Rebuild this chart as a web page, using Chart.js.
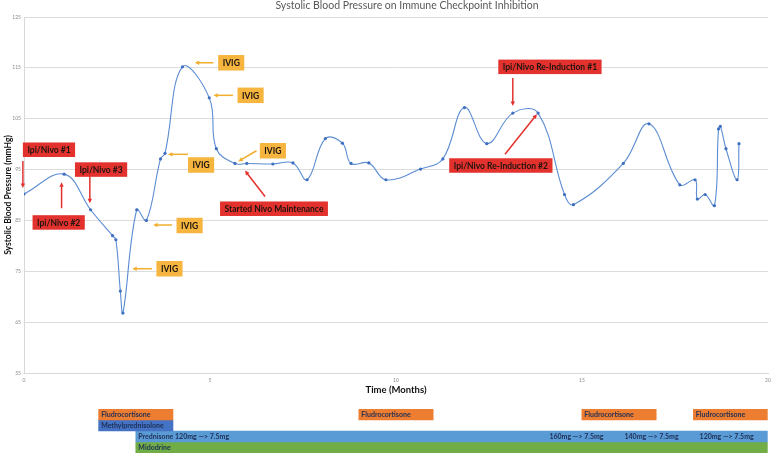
<!DOCTYPE html>
<html>
<head>
<meta charset="utf-8">
<script src="https://cdn.jsdelivr.net/npm/chart.js@4"></script>
<style>
  html, body { margin: 0; padding: 0; background: #fff; }
  #wrap { position: relative; width: 778px; height: 453px; overflow: hidden; }
  #bpChart { position: absolute; left: 0; top: 0; }
  #medChart { position: absolute; left: 0; top: 409px; }
</style>
</head>
<body>
<div id="wrap">
  <canvas id="bpChart" width="778" height="400"></canvas>
  <canvas id="medChart" width="778" height="44"></canvas>
</div>
<script>
// blood pressure readings
const months = [0, 1.08, 1.79, 2.38, 2.47, 2.59, 2.66, 3.03, 3.29, 3.67,
  3.79, 4.26, 4.98, 5.17, 5.67, 5.99, 6.69, 7.23, 7.61, 8.10,
  8.56, 8.79, 9.27, 9.73, 10.66, 11.26, 11.84, 12.44, 13.14, 13.82,
  14.53, 14.77, 16.11, 16.80, 17.63, 18.04, 18.10, 18.31, 18.56, 18.67,
  18.72, 18.87, 19.17, 19.22];
const systolic = [90.2, 94.1, 87.1, 82.0, 81.2, 71.1, 66.8, 87.1, 85.0, 97.1,
  98.2, 115.2, 109.1, 99.1, 96.2, 96.2, 96.1, 96.3, 93.0, 101.1,
  100.2, 96.2, 96.3, 93.0, 95.1, 97.1, 107.2, 100.1, 106.1, 106.1,
  90.1, 88.1, 96.2, 104.0, 92.0, 93.0, 89.2, 90.1, 87.9, 103.0,
  103.5, 99.1, 93.0, 100.1];
const yTicks = [55, 65, 75, 85, 95, 105, 115, 125];
const xTicks = [0, 5, 10, 15, 20];

// medication timeline (months)
const medRows = ['Fludrocortisone', 'Methylprednisolone', 'Prednisone', 'Midodrine'];
const fludroSpans = [[2, 4], [9, 11], [15, 17], [18, 20]];
const methylSpans = [[2, 4]];
const prednisoneSpans = [[3, 20]];
const midodrineSpans = [[3, 20]];
const medLabels = ['Fludrocortisone', 'Fludrocortisone', 'Fludrocortisone', 'Fludrocortisone',
  'Methylprednisolone', 'Prednisone 120mg \u2014> 7.5mg', '160mg \u2014> 7.5mg',
  '140mg \u2014> 7.5mg', '120mg \u2014> 7.5mg', 'Midodrine'];
const medLabelRows = [0, 0, 0, 0, 1, 2, 2, 2, 2, 3];
const medLabelStarts = [2, 9, 15, 18, 2, 3, 14.06, 16.08, 18.1, 3];

// callouts: box = [left month, centre mmHg], arrow = [x1, y1, x2, y2] tail -> head
const notes = [
  { text: 'Ipi/Nivo #1', kind: 'red', box: [-0.03, 98.9], arrow: [-0.03, 96.7, -0.03, 91.4] },
  { text: 'Ipi/Nivo #2', kind: 'red', box: [0.23, 84.6], arrow: [1.01, 87.4, 1.01, 92.5] },
  { text: 'Ipi/Nivo #3', kind: 'red', box: [1.37, 95.0], arrow: [1.77, 93.9, 1.77, 88.4] },
  { text: 'Started Nivo Maintenance', kind: 'red', box: [5.27, 87.3], arrow: [6.48, 89.7, 5.94, 94.8] },
  { text: 'Ipi/Nivo Re-Induction #1', kind: 'red', box: [12.75, 115.2], arrow: [13.14, 113.0, 13.14, 107.5] },
  { text: 'Ipi/Nivo Re-Induction #2', kind: 'red', box: [11.43, 95.8], arrow: [12.93, 98.0, 13.79, 105.9] },
  { text: 'IVIG', kind: 'ivig', box: [5.22, 116.0], arrow: [5.09, 116.0, 4.59, 116.0] },
  { text: 'IVIG', kind: 'ivig', box: [5.74, 109.6], arrow: [5.62, 109.6, 5.09, 109.6] },
  { text: 'IVIG', kind: 'ivig', box: [4.41, 95.9], arrow: [4.41, 98.0, 3.87, 98.0] },
  { text: 'IVIG', kind: 'ivig', box: [6.34, 98.7], arrow: [6.25, 98.7, 5.76, 96.6] },
  { text: 'IVIG', kind: 'ivig', box: [4.10, 84.0], arrow: [3.98, 84.1, 3.47, 84.1] },
  { text: 'IVIG', kind: 'ivig', box: [3.56, 75.5], arrow: [3.44, 75.5, 2.91, 75.5] }
];

function drawArrow(ctx, x1, y1, x2, y2, color) {
  const ang = Math.atan2(y2 - y1, x2 - x1);
  const head = 5;
  ctx.strokeStyle = color;
  ctx.fillStyle = color;
  ctx.lineWidth = 1.5;
  ctx.beginPath();
  ctx.moveTo(x1, y1);
  ctx.lineTo(x2 - Math.cos(ang) * head * 0.8, y2 - Math.sin(ang) * head * 0.8);
  ctx.stroke();
  ctx.beginPath();
  ctx.moveTo(x2, y2);
  ctx.lineTo(x2 - head * Math.cos(ang - 0.45), y2 - head * Math.sin(ang - 0.45));
  ctx.lineTo(x2 - head * Math.cos(ang + 0.45), y2 - head * Math.sin(ang + 0.45));
  ctx.closePath();
  ctx.fill();
}

const calloutPlugin = {
  id: 'callouts',
  afterDatasetsDraw(chart) {
    const ctx = chart.ctx;
    const xs = chart.scales.x, ys = chart.scales.y;
    ctx.save();
    // title
    ctx.font = '10.5px Lato';
    ctx.fillStyle = '#595959';
    ctx.textAlign = 'center';
    ctx.textBaseline = 'middle';
    ctx.fillText('Systolic Blood Pressure on Immune Checkpoint Inhibition', 407, 6);

    notes.forEach(n => {
      const red = n.kind === 'red';
      const col = red ? '#E3312D' : '#F5B53F';
      const arrowCol = red ? '#E3312D' : '#F2AE2E';
      drawArrow(ctx, xs.getPixelForValue(n.arrow[0]), ys.getPixelForValue(n.arrow[1]),
        xs.getPixelForValue(n.arrow[2]), ys.getPixelForValue(n.arrow[3]), arrowCol);
      ctx.font = 'bold 8.5px Lato';
      const w = ctx.measureText(n.text).width + (red ? 9 : 9);
      const h = red ? 14.5 : 15.5;
      const left = xs.getPixelForValue(n.box[0]);
      const cy = ys.getPixelForValue(n.box[1]);
      ctx.fillStyle = col;
      ctx.fillRect(left, cy - h / 2, w, h);
      ctx.fillStyle = '#1d1410';
      ctx.textAlign = 'center';
      ctx.textBaseline = 'middle';
      ctx.fillText(n.text, left + w / 2, cy + 0.5);
    });
    ctx.restore();
  }
};

new Chart(document.getElementById('bpChart'), {
  type: 'scatter',
  data: {
    datasets: [{
      data: months.map((m, i) => ({ x: m, y: systolic[i] })),
      showLine: true,
      tension: 0.4,
      borderColor: '#5B8CD3',
      borderWidth: 1.1,
      pointRadius: 1.6,
      pointBackgroundColor: '#3F6FC0',
      pointBorderWidth: 0
    }]
  },
  options: {
    responsive: false,
    animation: false,
    layout: { padding: { left: 0, right: 10, top: 17, bottom: 0 } },
    plugins: { legend: { display: false }, tooltip: { enabled: false } },
    scales: {
      x: {
        type: 'linear', min: 0, max: 20,
        afterBuildTicks: s => { s.ticks = xTicks.map(v => ({ value: v })); },
        afterFit: s => { s.height = 27; },
        grid: { display: false, drawTicks: false },
        border: { display: true, color: '#d9d9d9', width: 1 },
        ticks: { font: { size: 5, family: 'Lato' }, color: '#8c8c8c', padding: 4 },
        title: { display: true, text: 'Time (Months)', font: { size: 9.5, weight: 'bold', family: 'Lato' }, color: '#111', padding: { top: 0, bottom: 4 } }
      },
      y: {
        min: 55, max: 125,
        afterBuildTicks: s => { s.ticks = yTicks.map(v => ({ value: v })); },
        afterFit: s => { s.width = 24; },
        grid: { color: '#dcdcdc', lineWidth: 1, drawTicks: false },
        border: { display: true, color: '#d9d9d9', width: 1 },
        ticks: { font: { size: 5, family: 'Lato' }, color: '#8c8c8c', padding: 3 },
        title: { display: true, text: 'Systolic Blood Pressure (mmHg)', font: { size: 8.5, weight: 'bold', family: 'Lato' }, color: '#111', padding: { top: 3, bottom: 0 } }
      }
    }
  },
  plugins: [calloutPlugin]
});

// medication bars
function spanData(spans, row) {
  return spans.map(s => ({ x: s, y: medRows[row] }));
}

const medLabelPlugin = {
  id: 'medLabels',
  afterDatasetsDraw(chart) {
    const ctx = chart.ctx;
    const xs = chart.scales.x, ys = chart.scales.y;
    ctx.save();
    ctx.font = 'bold 7px Lato';
    ctx.fillStyle = '#1F2F55';
    ctx.textAlign = 'left';
    ctx.textBaseline = 'middle';
    medLabels.forEach((t, i) => {
      ctx.fillText(t, xs.getPixelForValue(medLabelStarts[i]) + 2.5, ys.getPixelForValue(medLabelRows[i]) + 0.5);
    });
    ctx.restore();
  }
};

new Chart(document.getElementById('medChart'), {
  type: 'bar',
  data: {
    labels: medRows,
    datasets: [
      { data: spanData(fludroSpans, 0), backgroundColor: '#ED7D31' },
      { data: spanData(methylSpans, 1), backgroundColor: '#4472C4' },
      { data: spanData(prednisoneSpans, 2), backgroundColor: '#5B9BD5' },
      { data: spanData(midodrineSpans, 3), backgroundColor: '#70AD47' }
    ]
  },
  options: {
    indexAxis: 'y',
    responsive: false,
    animation: false,
    grouped: false,
    barPercentage: 1,
    categoryPercentage: 1,
    layout: { padding: { left: 24.3, right: 10.3, top: 0, bottom: 0 } },
    plugins: { legend: { display: false }, tooltip: { enabled: false } },
    scales: {
      x: { type: 'linear', min: 0, max: 20, display: false },
      y: { display: false }
    }
  },
  plugins: [medLabelPlugin]
});
</script>
</body>
</html>
